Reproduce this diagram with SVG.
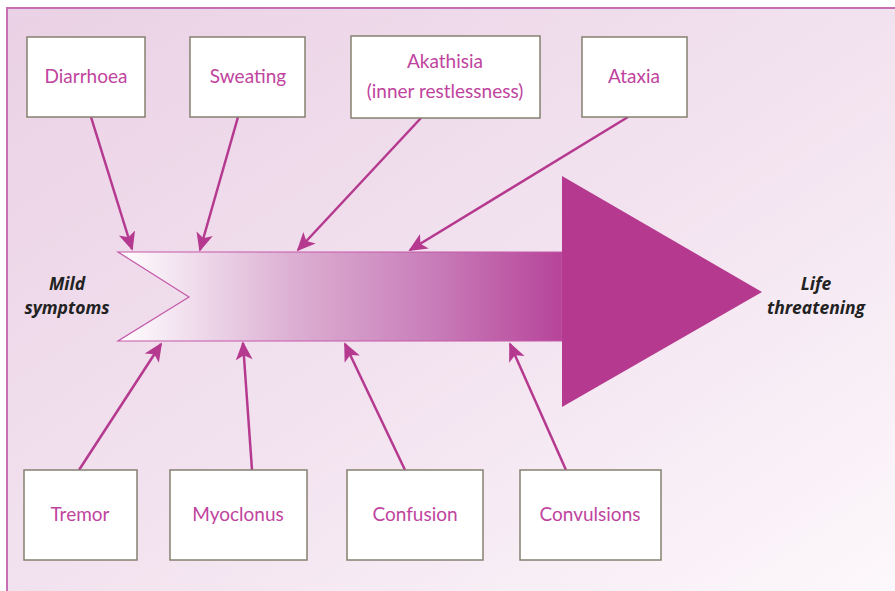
<svg xmlns="http://www.w3.org/2000/svg" width="895" height="591" viewBox="0 0 895 591">
<defs>
<linearGradient id="bg" x1="0" y1="0" x2="1" y2="1">
<stop offset="0" stop-color="#ead1e5"/>
<stop offset="0.55" stop-color="#f3e4f0"/>
<stop offset="1" stop-color="#fdf9fc"/>
</linearGradient>
<linearGradient id="shaft" gradientUnits="userSpaceOnUse" x1="118" y1="0" x2="562" y2="0">
<stop offset="0" stop-color="#ffffff"/>
<stop offset="0.15" stop-color="#f1e0ee"/>
<stop offset="0.4" stop-color="#dcaed2"/>
<stop offset="0.7" stop-color="#c97fba"/>
<stop offset="1" stop-color="#b7449a"/>
</linearGradient>
<marker id="ah" viewBox="0 0 10 10" refX="9" refY="5" markerWidth="7.5" markerHeight="7.5" markerUnits="strokeWidth" orient="auto">
<path d="M0,0.5 L10,5 L0,9.5 L2.5,5 Z" fill="#b5398f"/>
</marker>
<style>
.box rect{fill:#ffffff;stroke:#858070;stroke-width:1.5}
.box text{font-family:Lato,"Open Sans",sans-serif;font-size:19px;fill:#c0449e;text-anchor:middle}
.lbl{font-family:"Open Sans","Noto Sans",sans-serif;font-size:17.5px;font-weight:bold;font-style:italic;fill:#222222;text-anchor:middle}
#connectors line{stroke:#b5398f;stroke-width:2.5;marker-end:url(#ah)}
</style>
</defs>
<rect x="7" y="8" width="900" height="600" fill="url(#bg)" stroke="#c66fb5" stroke-width="2"/>

<g id="main-arrow">
<polygon points="118,252 562,252 562,341 118,341 189,297" fill="url(#shaft)" stroke="#c458a8" stroke-width="1.2"/>
<polygon points="562,176 762,292 562,407" fill="#b5398f"/>
</g>

<g id="connectors">
<line x1="91" y1="117" x2="132" y2="249"/>
<line x1="238" y1="117" x2="200" y2="250"/>
<line x1="421" y1="118" x2="298" y2="250"/>
<line x1="628" y1="117" x2="410" y2="250"/>
<line x1="79" y1="470" x2="161" y2="344"/>
<line x1="252" y1="470" x2="243" y2="343"/>
<line x1="405" y1="470" x2="345" y2="344"/>
<line x1="566" y1="470" x2="510" y2="344"/>
</g>

<g id="diarrhoea" class="box"><rect x="27" y="37" width="118" height="80"/><text x="86" y="83">Diarrhoea</text></g>
<g id="sweating" class="box"><rect x="190" y="37" width="115" height="80"/><text x="248" y="83">Sweating</text></g>
<g id="akathisia" class="box"><rect x="351" y="36" width="189" height="82"/><text x="445" y="68">Akathisia</text><text x="445" y="98">(inner restlessness)</text></g>
<g id="ataxia" class="box"><rect x="582" y="37" width="105" height="80"/><text x="634" y="83">Ataxia</text></g>

<g id="tremor" class="box"><rect x="24" y="470" width="113" height="90"/><text x="80" y="521">Tremor</text></g>
<g id="myoclonus" class="box"><rect x="170" y="470" width="137" height="90"/><text x="238" y="521">Myoclonus</text></g>
<g id="confusion" class="box"><rect x="347" y="470" width="136" height="90"/><text x="415" y="521">Confusion</text></g>
<g id="convulsions" class="box"><rect x="520" y="470" width="141" height="90"/><text x="590" y="521">Convulsions</text></g>

<g id="mild">
<text class="lbl" x="67" y="290">Mild</text>
<text class="lbl" x="67" y="314">symptoms</text>
</g>
<g id="life">
<text class="lbl" x="816" y="290">Life</text>
<text class="lbl" x="816" y="314">threatening</text>
</g>
</svg>
